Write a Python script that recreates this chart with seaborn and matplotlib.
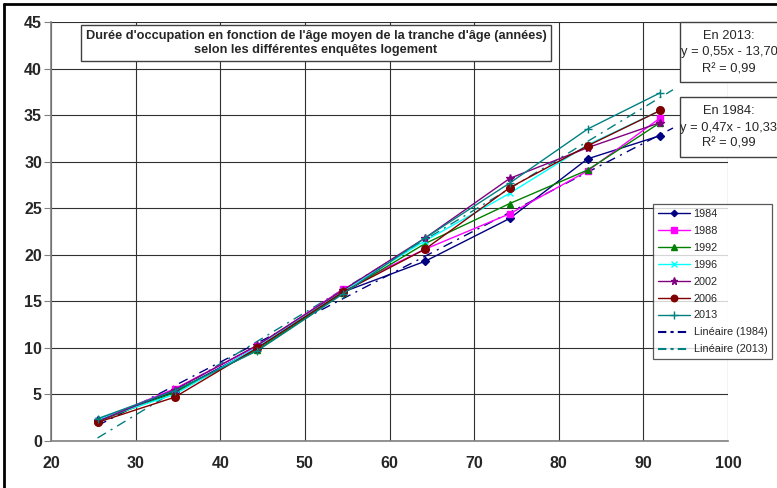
import numpy as np
import pandas as pd
import matplotlib
matplotlib.use("Agg")
import matplotlib.pyplot as plt
from matplotlib.patches import Rectangle
from matplotlib.lines import Line2D
import seaborn as sns

# mean age of the age bracket
ages = [25.5, 34.6, 44.4, 54.5, 64.2, 74.2, 83.4, 92.0]

y1984 = [2.3, 5.3, 10.0, 16.0, 19.3, 23.9, 30.3, 32.8]
y1988 = [2.2, 5.6, 10.2, 16.3, 20.6, 24.4, 29.0, 34.7]
y1992 = [2.1, 5.2, 9.8, 15.9, 21.2, 25.5, 29.1, 34.2]
y1996 = [2.3, 5.0, 10.1, 16.1, 21.5, 26.6, 31.8, 35.5]
y2002 = [2.1, 5.5, 10.3, 16.2, 21.8, 28.2, 31.5, 34.2]
y2006 = [2.0, 4.7, 10.0, 16.0, 20.6, 27.2, 31.7, 35.5]
y2013 = [2.4, 5.4, 9.7, 15.8, 21.8, 27.7, 33.5, 37.4]

years = ["1984", "1988", "1992", "1996", "2002", "2006", "2013"]
series = [y1984, y1988, y1992, y1996, y2002, y2006, y2013]
colors = ["#000080", "#FF00FF", "#008000", "#00FFFF", "#800080", "#800000", "#008080"]
marks = ["D", "s", "^", "x", "*", "o", "+"]
msizes = [3.8, 5, 5, 5, 6, 5.5, 6]

# linear trends (Excel)
trend_years = ["1984", "2013"]
slopes = [0.47, 0.55]
intercepts = [-10.33, -13.70]
r2 = [0.99, 0.99]
trend_colors = ["#000080", "#008080"]
trend_x = [25.5, 93.5]

df = pd.DataFrame({
    "age": ages * len(years),
    "duree": [v for s in series for v in s],
    "annee": [y for y in years for _ in ages],
})

sns.set_style("white")
plt.rcParams["font.family"] = ["Liberation Sans", "DejaVu Sans"]

W, H = 777, 488
fig = plt.figure(figsize=(7.77, 4.88), dpi=100)
ax = fig.add_axes([51 / W, 1 - 441 / H, (728 - 51) / W, (441 - 22) / H])

for y, c, m, ms in zip(years, colors, marks, msizes):
    sns.lineplot(data=df[df["annee"] == y], x="age", y="duree", color=c,
                 marker=m, markersize=ms, markeredgecolor=c, markeredgewidth=1,
                 linewidth=1, ax=ax, legend=False, zorder=3)

for s, b, c in zip(slopes, intercepts, trend_colors):
    xx = np.array(trend_x)
    ax.plot(xx, s * xx + b, color=c, lw=1, ls=(0, (7, 4, 1.5, 4)), zorder=2)

ax.set_xlim(20, 100)
ax.set_ylim(0, 45)
ax.set_xticks(range(20, 101, 10))
ax.set_yticks(range(0, 46, 5))
ax.grid(True, color="#303030", lw=0.8)
ax.set_axisbelow(True)
for sp in ["top", "right"]:
    ax.spines[sp].set_visible(False)
for sp in ["left", "bottom"]:
    ax.spines[sp].set_color("#808080")
    ax.spines[sp].set_linewidth(1.2)
ax.tick_params(axis="y", length=5, color="#808080", direction="out", pad=1.5, left=True)
ax.tick_params(axis="x", length=0, pad=11)
ax.set_xlabel("")
ax.set_ylabel("")
for lab in ax.get_xticklabels() + ax.get_yticklabels():
    lab.set_fontweight("bold")
    lab.set_fontsize(11.5)

# chart title box
fig.text(316 / W, 1 - 43 / H,
         "Durée d'occupation en fonction de l'âge moyen de la tranche d'âge (années)\n"
         "selon les différentes enquêtes logement",
         ha="center", va="center", fontsize=9.2,
         fontweight="bold", linespacing=1.3, zorder=6,
         bbox=dict(boxstyle="square,pad=0.35", fc="white", ec="#404040", lw=1))

# equation boxes
for i, (top, bot) in enumerate([(22, 82), (97, 157)]):
    k = 1 - i  # 2013 first, then 1984
    fig.patches.append(Rectangle((680 / W, 1 - bot / H), 120 / W, (bot - top) / H,
                                 transform=fig.transFigure, fc="white", ec="#404040",
                                 lw=1, zorder=7))
    lines = ["En %s:" % trend_years[k],
             "y = %sx - %s" % (("%.2f" % slopes[k]).replace(".", ","),
                               ("%.2f" % -intercepts[k]).replace(".", ",")),
             "R² = %s" % ("%.2f" % r2[k]).replace(".", ",")]
    for j, t in enumerate(lines):
        fig.text(729 / W, 1 - (top + 14 + 16.5 * j) / H, t, ha="center", va="center",
                 fontsize=9.3, zorder=8)

# legend
handles = [Line2D([], [], color=c, marker=m, markersize=ms * 0.85, lw=1,
                  markeredgecolor=c) for c, m, ms in zip(colors, marks, msizes)]
labels = list(years)
for ty, c in zip(trend_years, trend_colors):
    handles.append(Line2D([], [], color=c, lw=1.5, ls=(0, (4, 2, 1.5, 2))))
    labels.append("Linéaire (%s)" % ty)
leg = fig.legend(handles, labels, loc="upper left",
                 bbox_to_anchor=(653 / W, 1 - 204 / H), fontsize=7.8,
                 frameon=True, fancybox=False, edgecolor="#303030",
                 handlelength=3.0, labelspacing=0.64, borderpad=0.45,
                 handletextpad=0.3, borderaxespad=0)
leg.get_frame().set_linewidth(0.9)
leg.set_zorder(9)

# outer frame of the chart
fig.add_artist(Line2D([4 / W, 4 / W], [0, 1 - 4 / H], transform=fig.transFigure,
                      color="black", lw=2))
fig.add_artist(Line2D([4 / W, 1], [1 - 4 / H, 1 - 4 / H], transform=fig.transFigure,
                      color="black", lw=2))

fig.savefig("out.png", dpi=100)
